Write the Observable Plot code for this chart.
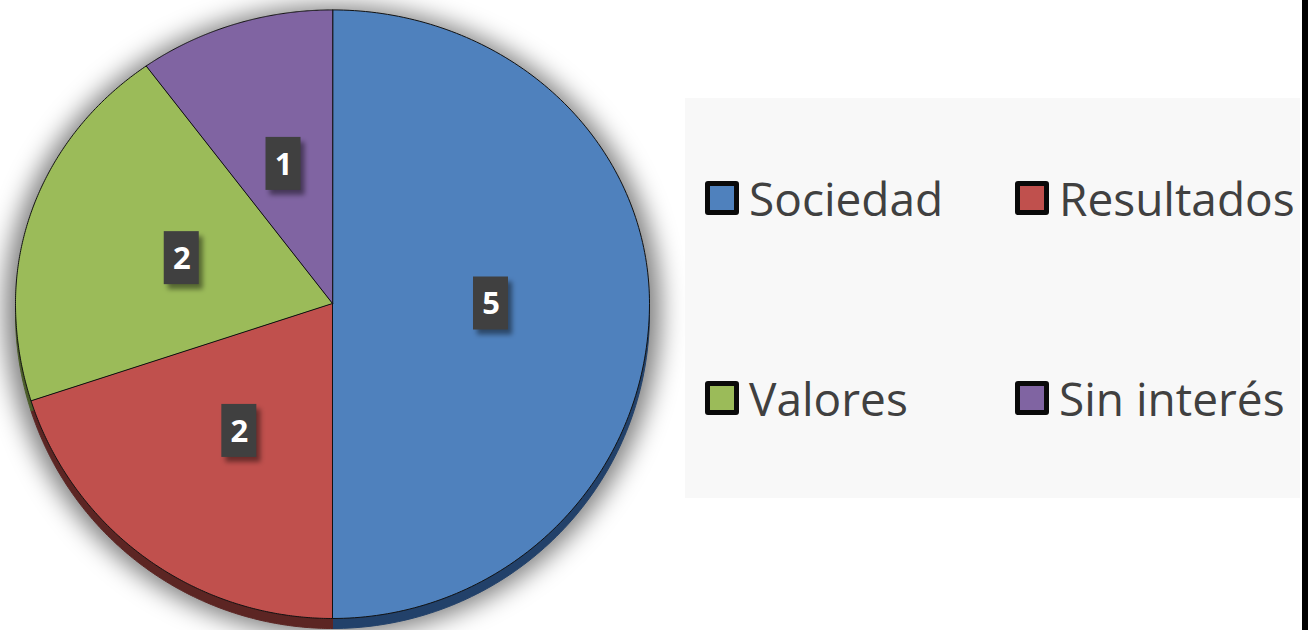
<!DOCTYPE html>
<html>
<head>
<meta charset="utf-8">
<script src="https://cdn.jsdelivr.net/npm/d3@7"></script>
<script src="https://cdn.jsdelivr.net/npm/@observablehq/plot@0.6"></script>
<style>
  html, body { margin: 0; padding: 0; background: #ffffff; }
  #wrap { position: relative; width: 1310px; height: 630px; overflow: hidden; background: #ffffff; }
  #chart { position: absolute; left: 0; top: 0; }
  #legend { position: absolute; left: 685px; top: 98px; width: 615px; height: 400px; background: #f8f8f8; }
  .item { position: absolute; display: flex; align-items: center; font-family: "Open Sans", sans-serif; font-size: 46px; color: #404040; white-space: nowrap; }
  .sw { width: 24px; height: 24px; border: 5px solid #0a0a0a; border-radius: 3px; margin-right: 10px; box-sizing: content-box; }
  #bar { position: absolute; left: 1302px; top: 0; width: 6px; height: 630px; background: #000; }
</style>
</head>
<body>
<div id="wrap">
  <div id="chart"></div>
  <div id="legend"></div>
  <div id="bar"></div>
</div>
<script>
const categories = ["Sociedad", "Resultados", "Valores", "Sin interés"];
const values = [5, 2, 2, 1];
const colors = ["#4f81bd", "#c0504d", "#9bbb59", "#8064a2"];
const sideColors = ["#22416a", "#5c2523", "#4b5d29", "#3f3152"];

// perspective tilt: the far (upper) half of the disc looks slightly shorter
const farSquash = 0.932;
const tilt = y => (y > 0 ? y * farSquash : y);

const arcs = d3.pie().sort(null)(values);
const N = 180;
const slices = arcs.flatMap((a, i) => {
  const pts = [{cat: categories[i], x: 0, y: 0}];
  for (let k = 0; k <= N; k++) {
    const t = a.startAngle + (a.endAngle - a.startAngle) * k / N;
    pts.push({cat: categories[i], x: Math.sin(t), y: tilt(Math.cos(t))});
  }
  return pts;
});
const shadowScale = 1.035;
const outline = d3.range(0, 361, 1).map(d => ({x: shadowScale * Math.sin(d * Math.PI / 180), y: shadowScale * tilt(Math.cos(d * Math.PI / 180))}));
const labels = arcs.map((a, i) => {
  const m = (a.startAngle + a.endAngle) / 2;
  return {cat: categories[i], value: values[i], x: 0.5 * Math.sin(m), y: tilt(0.5 * Math.cos(m))};
});

const boxInset = {insetLeft: -17.5, insetRight: -17.5, insetTop: -26.5, insetBottom: -26.5};

const svg = Plot.plot({
  width: 680,
  height: 630,
  margin: 0,
  style: {background: "transparent", overflow: "visible"},
  x: {domain: [-1, 1], range: [15, 649], axis: null},
  y: {domain: [-1, 1], range: [618, -12], axis: null},
  color: {domain: categories, range: colors},
  marks: [
    Plot.line(outline, {x: "x", y: "y", curve: "linear-closed", fill: "#000", fillOpacity: 0.5, stroke: "none", dy: 6, ariaDescription: "shadow"}),
    Plot.line(slices, {x: "x", y: "y", z: "cat", curve: "linear-closed", fill: d => sideColors[categories.indexOf(d.cat)], stroke: d => sideColors[categories.indexOf(d.cat)], strokeWidth: 1, dy: 10}),
    Plot.line(slices, {x: "x", y: "y", z: "cat", curve: "linear-closed", fill: "cat", stroke: "#111", strokeWidth: 1}),
    Plot.rect(labels, {x1: "x", x2: "x", y1: "y", y2: "y", ...boxInset, dx: 4, dy: 5, fill: "#000", fillOpacity: 0.45, ariaDescription: "boxshadow"}),
    Plot.rect(labels, {x1: "x", x2: "x", y1: "y", y2: "y", ...boxInset, fill: "#404040"}),
    Plot.text(labels, {x: "x", y: "y", text: d => String(d.value), fill: "#ffffff", fontSize: 31, fontWeight: "bold", fontFamily: "Open Sans, sans-serif", dy: 1})
  ]
});

const defs = d3.select(svg).insert("defs", ":first-child");
defs.append("filter").attr("id", "blurShadow").attr("filterUnits", "userSpaceOnUse")
  .attr("x", -60).attr("y", -60).attr("width", 800).attr("height", 760)
  .append("feGaussianBlur").attr("stdDeviation", 12);
defs.append("filter").attr("id", "blurBox").attr("x", "-50%").attr("y", "-50%").attr("width", "200%").attr("height", "200%")
  .append("feGaussianBlur").attr("stdDeviation", 2.5);
d3.select(svg).select('g[aria-description="shadow"]').attr("filter", "url(#blurShadow)");
d3.select(svg).select('g[aria-description="boxshadow"]').attr("filter", "url(#blurBox)");

document.getElementById("chart").appendChild(svg);

// Legend (HTML), colours taken from the plot's colour scale
const color = svg.scale("color");
const legendPos = [[20, 100], [330, 100], [20, 300], [330, 300]];
const legend = d3.select("#legend");
categories.forEach((c, i) => {
  const it = legend.append("div").attr("class", "item")
    .style("left", legendPos[i][0] + "px")
    .style("top", (legendPos[i][1] - 34) + "px")
    .style("height", "68px");
  it.append("div").attr("class", "sw").style("background", color.apply(c));
  it.append("span").text(c);
});
</script>
</body>
</html>
